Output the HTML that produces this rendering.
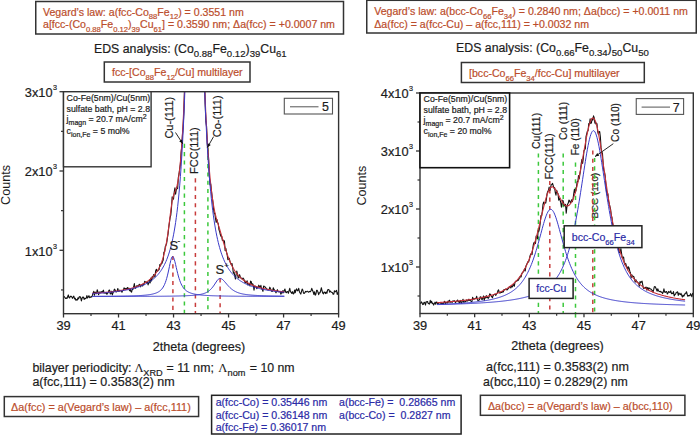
<!DOCTYPE html><html><head><meta charset="utf-8"><style>html,body{margin:0;padding:0;background:#fff;}svg{display:block;}</style></head><body><svg width="700" height="435" viewBox="0 0 700 435" font-family='"Liberation Sans", sans-serif'><rect width="700" height="435" fill="#fff"/><rect x="35.75" y="1.5" width="307.75" height="32.50" fill="none" stroke="#333333" stroke-width="1.5"/>
<text x="43" y="15.5" font-size="10.6" fill="#bb4d2b" stroke="#bb4d2b" stroke-width="0.2" text-anchor="start" ><tspan>Vegard’s law: a(fcc-Co</tspan><tspan dy="3.50" font-size="7.63">88</tspan><tspan dy="-3.50">Fe</tspan><tspan dy="3.50" font-size="7.63">12</tspan><tspan dy="-3.50">) = 0.3551 nm</tspan></text>
<text x="43" y="28.2" font-size="10.6" fill="#bb4d2b" stroke="#bb4d2b" stroke-width="0.2" text-anchor="start" ><tspan>a[fcc-(Co</tspan><tspan dy="3.50" font-size="7.63">0.88</tspan><tspan dy="-3.50">Fe</tspan><tspan dy="3.50" font-size="7.63">0.12</tspan><tspan dy="-3.50">)</tspan><tspan dy="3.50" font-size="7.63">39</tspan><tspan dy="-3.50">Cu</tspan><tspan dy="3.50" font-size="7.63">61</tspan><tspan dy="-3.50">] = 0.3590 nm; Δa(fcc) = +0.0007 nm</tspan></text>
<rect x="366.75" y="0.3" width="329.50" height="32.70" fill="none" stroke="#333333" stroke-width="1.5"/>
<text x="374.2" y="15" font-size="10.6" fill="#bb4d2b" stroke="#bb4d2b" stroke-width="0.2" text-anchor="start" ><tspan>Vegard’s law: a(bcc-Co</tspan><tspan dy="3.50" font-size="7.63">66</tspan><tspan dy="-3.50">Fe</tspan><tspan dy="3.50" font-size="7.63">34</tspan><tspan dy="-3.50">) = 0.2840 nm; Δa(bcc) = +0.0011 nm</tspan></text>
<text x="374.2" y="27.9" font-size="10.6" fill="#bb4d2b" stroke="#bb4d2b" stroke-width="0.2" text-anchor="start" ><tspan>Δa(fcc) = a(fcc-Cu) – a(fcc,111) = +0.0032 nm</tspan></text>
<text x="94" y="52.7" font-size="12.3" fill="#1c1c1c" stroke="#1c1c1c" stroke-width="0.2" text-anchor="start" ><tspan>EDS analysis: (Co</tspan><tspan dy="4.20" font-size="9.60">0.88</tspan><tspan dy="-4.20">Fe</tspan><tspan dy="4.20" font-size="9.60">0.12</tspan><tspan dy="-4.20">)</tspan><tspan dy="4.20" font-size="9.60">39</tspan><tspan dy="-4.20">Cu</tspan><tspan dy="4.20" font-size="9.60">61</tspan></text>
<text x="456.1" y="51.6" font-size="12.3" fill="#1c1c1c" stroke="#1c1c1c" stroke-width="0.2" text-anchor="start" ><tspan>EDS analysis: (Co</tspan><tspan dy="4.20" font-size="9.60">0.66</tspan><tspan dy="-4.20">Fe</tspan><tspan dy="4.20" font-size="9.60">0.34</tspan><tspan dy="-4.20">)</tspan><tspan dy="4.20" font-size="9.60">50</tspan><tspan dy="-4.20">Cu</tspan><tspan dy="4.20" font-size="9.60">50</tspan></text>
<rect x="104.3" y="62" width="145.70" height="20.00" fill="none" stroke="#333333" stroke-width="1.5"/>
<text x="112" y="76.3" font-size="10.6" fill="#bb4d2b" stroke="#bb4d2b" stroke-width="0.2" text-anchor="start" ><tspan>fcc-[Co</tspan><tspan dy="3.50" font-size="7.63">88</tspan><tspan dy="-3.50">Fe</tspan><tspan dy="3.50" font-size="7.63">12</tspan><tspan dy="-3.50">/Cu] multilayer</tspan></text>
<rect x="461.4" y="62.5" width="182.90" height="20.00" fill="none" stroke="#333333" stroke-width="1.5"/>
<text x="469" y="77.2" font-size="10.6" fill="#bb4d2b" stroke="#bb4d2b" stroke-width="0.2" text-anchor="start" ><tspan>[bcc-Co</tspan><tspan dy="3.50" font-size="7.63">66</tspan><tspan dy="-3.50">Fe</tspan><tspan dy="3.50" font-size="7.63">34</tspan><tspan dy="-3.50">/fcc-Cu] multilayer</tspan></text>
<defs><clipPath id="cl"><rect x="63.5" y="91.7" width="275.1" height="222.0"/></clipPath><clipPath id="cr"><rect x="420.0" y="93.0" width="273.29999999999995" height="220.5"/></clipPath></defs>
<g clip-path="url(#cl)">
<line x1="172.90" y1="256.00" x2="172.90" y2="313.70" stroke="#c83c3c" stroke-width="1.5" stroke-dasharray="4.1 4.2"/>
<line x1="184.40" y1="143.80" x2="184.40" y2="313.70" stroke="#3cc83c" stroke-width="1.5" stroke-dasharray="4.1 4.2"/>
<line x1="195.40" y1="178.30" x2="195.40" y2="313.70" stroke="#c83c3c" stroke-width="1.5" stroke-dasharray="4.1 4.2"/>
<line x1="207.90" y1="147.50" x2="207.90" y2="313.70" stroke="#3cc83c" stroke-width="1.5" stroke-dasharray="4.1 4.2"/>
<line x1="220.10" y1="278.30" x2="220.10" y2="313.70" stroke="#c83c3c" stroke-width="1.5" stroke-dasharray="4.1 4.2"/>
<path d="M63.50,296.87 L64.19,296.52 L64.88,297.47 L65.56,298.45 L66.25,297.99 L66.94,298.54 L67.63,296.77 L68.31,294.94 L69.00,297.55 L69.69,297.89 L70.38,296.22 L71.07,296.26 L71.75,296.88 L72.44,298.35 L73.13,297.02 L73.82,296.12 L74.50,298.96 L75.19,298.26 L75.88,300.20 L76.57,299.64 L77.25,300.07 L77.94,297.89 L78.63,298.88 L79.32,296.72 L80.01,296.67 L80.69,297.67 L81.38,300.96 L82.07,298.26 L82.76,297.09 L83.44,297.06 L84.13,299.36 L84.82,298.15 L85.51,298.69 L86.20,298.16 L86.88,295.60 L87.57,297.98 L88.26,296.96 L88.95,295.68 L89.63,297.68 L90.32,297.19 L91.01,296.77 L91.70,297.05 L92.39,295.34 L93.07,293.18 L93.76,291.37 L94.45,295.31 L95.14,292.09 L95.82,292.91 L96.51,293.72 L97.20,289.76 L97.89,291.59 L98.58,294.74 L99.26,292.91 L99.95,291.93 L100.64,292.85 L101.33,291.67 L102.01,292.51 L102.70,291.25 L103.39,290.20 L104.08,293.28 L104.76,292.34 L105.45,293.07 L106.14,292.44 L106.83,294.30 L107.52,293.42 L108.20,292.37 L108.89,290.35 L109.58,290.15 L110.27,294.01 L110.95,293.27 L111.64,291.24 L112.33,294.93 L113.02,292.78 L113.71,291.48 L114.39,289.17 L115.08,289.96 L115.77,291.70 L116.46,291.86 L117.14,291.20 L117.83,288.50 L118.52,291.28 L119.21,291.24 L119.90,290.10 L120.58,290.66 L121.27,290.97 L121.96,292.19 L122.65,290.49 L123.33,290.52 L124.02,287.85 L124.71,288.39 L125.40,289.37 L126.09,288.41 L126.77,289.54 L127.46,287.44 L128.15,288.68 L128.84,288.13 L129.52,290.72 L130.21,288.57 L130.90,291.64 L131.59,292.14 L132.27,289.14 L132.96,289.38 L133.65,286.99 L134.34,283.57 L135.03,288.25 L135.71,288.16 L136.40,286.35 L137.09,285.56 L137.78,286.44 L138.46,286.18 L139.15,284.33 L139.84,284.51 L140.53,286.84 L141.22,285.14 L141.90,284.64 L142.59,285.97 L143.28,283.73 L143.97,284.69 L144.65,281.38 L145.34,282.02 L146.03,282.13 L146.72,282.88 L147.41,282.14 L148.09,284.90 L148.78,282.86 L149.47,279.88 L150.16,283.03 L150.84,277.95 L151.53,281.03 L152.22,276.52 L152.91,277.96 L153.60,274.57 L154.28,275.08 L154.97,277.06 L155.66,270.92 L156.35,269.23 L157.03,271.29 L157.72,270.99 L158.41,269.84 L159.10,269.72 L159.78,264.56 L160.47,265.89 L161.16,263.80 L161.85,263.45 L162.54,261.46 L163.22,259.96 L163.91,252.17 L164.60,251.60 L165.29,246.46 L165.97,245.15 L166.66,243.23 L167.35,238.30 L168.04,233.89 L168.73,227.44 L169.41,222.85 L170.10,217.59 L170.79,215.08 L171.48,207.88 L172.16,196.75 L172.85,199.74 L173.54,198.76 L174.23,192.16 L174.92,187.71 L175.60,194.29 L176.29,189.77 L176.98,188.74 L177.67,188.58 L178.35,177.30 L179.04,173.97 L179.73,168.55 L180.42,164.00 L181.11,152.50 L181.79,146.08 L182.48,134.85 L183.17,126.30 L183.86,112.23 L184.54,87.09 L185.23,75.43 L185.92,53.35 L186.61,32.59 L187.29,10.48 L187.98,-16.19 L188.67,-50.23 L189.36,-76.77 L190.05,-108.86 L190.73,-142.84 L191.42,-180.52 L192.11,-206.38 L192.80,-226.80 L193.48,-236.58 L194.17,-241.00 L194.86,-255.35 L195.55,-248.07 L196.24,-225.81 L196.92,-207.64 L197.61,-183.32 L198.30,-154.59 L198.99,-123.50 L199.67,-86.55 L200.36,-64.53 L201.05,-24.40 L201.74,-6.53 L202.43,18.37 L203.11,38.82 L203.80,54.98 L204.49,76.30 L205.18,104.42 L205.86,121.44 L206.55,126.19 L207.24,143.49 L207.93,151.02 L208.62,158.36 L209.30,175.42 L209.99,184.62 L210.68,183.91 L211.37,189.94 L212.05,196.31 L212.74,200.75 L213.43,207.92 L214.12,213.46 L214.80,213.36 L215.49,218.42 L216.18,222.51 L216.87,219.25 L217.56,222.21 L218.24,223.79 L218.93,229.55 L219.62,231.46 L220.31,234.53 L220.99,236.32 L221.68,236.12 L222.37,240.32 L223.06,240.10 L223.75,241.63 L224.43,240.88 L225.12,250.37 L225.81,248.37 L226.50,252.16 L227.18,254.74 L227.87,259.70 L228.56,259.32 L229.25,258.30 L229.94,261.44 L230.62,262.98 L231.31,264.83 L232.00,263.52 L232.69,267.56 L233.37,273.30 L234.06,272.16 L234.75,275.81 L235.44,279.05 L236.13,274.25 L236.81,271.01 L237.50,274.30 L238.19,277.79 L238.88,277.86 L239.56,274.67 L240.25,276.78 L240.94,277.89 L241.63,278.69 L242.31,278.92 L243.00,278.04 L243.69,278.94 L244.38,280.43 L245.07,282.98 L245.75,281.08 L246.44,282.96 L247.13,280.88 L247.82,284.98 L248.50,283.77 L249.19,283.92 L249.88,285.94 L250.57,281.07 L251.26,281.62 L251.94,285.19 L252.63,283.77 L253.32,285.15 L254.01,290.23 L254.69,286.09 L255.38,286.23 L256.07,286.54 L256.76,288.61 L257.45,287.64 L258.13,287.21 L258.82,285.19 L259.51,286.67 L260.20,287.31 L260.88,285.35 L261.57,288.80 L262.26,289.45 L262.95,291.32 L263.64,286.06 L264.32,286.55 L265.01,286.97 L265.70,287.68 L266.39,288.82 L267.07,289.00 L267.76,289.91 L268.45,290.00 L269.14,289.37 L269.82,287.16 L270.51,288.74 L271.20,290.22 L271.89,291.36 L272.58,291.20 L273.26,287.77 L273.95,289.35 L274.64,290.51 L275.33,291.57 L276.01,292.81 L276.70,291.12 L277.39,289.68 L278.08,291.67 L278.77,291.74 L279.45,291.71 L280.14,291.60 L280.83,294.17 L281.52,292.47 L282.20,292.93 L282.89,290.59 L283.58,292.77 L284.27,290.58 L284.96,289.10 L285.64,292.02 L286.33,292.72 L287.02,291.50 L287.71,291.86 L288.39,293.25 L289.08,290.71 L289.77,288.30 L290.46,291.75 L291.15,292.30 L291.83,293.41 L292.52,291.64 L293.21,293.93 L293.90,293.53 L294.58,289.98 L295.27,292.71 L295.96,289.77 L296.65,288.88 L297.33,290.83 L298.02,290.31 L298.71,288.37 L299.40,291.74 L300.09,293.00 L300.77,294.06 L301.46,291.60 L302.15,289.02 L302.84,289.99 L303.52,293.24 L304.21,293.42 L304.90,292.65 L305.59,291.36 L306.28,291.93 L306.96,291.32 L307.65,291.22 L308.34,292.14 L309.03,291.78 L309.71,291.38 L310.40,291.69 L311.09,290.48 L311.78,288.35 L312.47,290.31 L313.15,291.83 L313.84,294.41 L314.53,291.80 L315.22,295.15 L315.90,294.27 L316.59,290.42 L317.28,290.37 L317.97,292.15 L318.66,294.65 L319.34,292.81 L320.03,292.77 L320.72,290.31 L321.41,287.76 L322.09,291.03 L322.78,293.19 L323.47,293.82 L324.16,292.07 L324.84,292.24 L325.53,293.62 L326.22,291.98 L326.91,293.35 L327.60,289.86 L328.28,289.47 L328.97,289.77 L329.66,292.15 L330.35,290.96 L331.03,291.89 L331.72,292.44 L332.41,292.61 L333.10,294.23 L333.79,294.20 L334.47,290.71 L335.16,291.80 L335.85,291.17 L336.54,290.34 L337.22,294.53 L337.91,293.32 L338.60,291.57" fill="none" stroke="#111" stroke-width="1.1" stroke-linejoin="round" />
<path d="M92.39,293.37 L93.07,293.33 L93.76,293.29 L94.45,293.24 L95.14,293.20 L95.82,293.15 L96.51,293.10 L97.20,293.05 L97.89,293.00 L98.58,292.95 L99.26,292.90 L99.95,292.85 L100.64,292.79 L101.33,292.74 L102.01,292.68 L102.70,292.62 L103.39,292.57 L104.08,292.50 L104.76,292.44 L105.45,292.38 L106.14,292.31 L106.83,292.25 L107.52,292.18 L108.20,292.11 L108.89,292.04 L109.58,291.96 L110.27,291.89 L110.95,291.81 L111.64,291.73 L112.33,291.65 L113.02,291.57 L113.71,291.48 L114.39,291.40 L115.08,291.31 L115.77,291.21 L116.46,291.12 L117.14,291.02 L117.83,290.92 L118.52,290.82 L119.21,290.71 L119.90,290.61 L120.58,290.49 L121.27,290.38 L121.96,290.26 L122.65,290.14 L123.33,290.01 L124.02,289.88 L124.71,289.75 L125.40,289.61 L126.09,289.47 L126.77,289.33 L127.46,289.18 L128.15,289.02 L128.84,288.86 L129.52,288.69 L130.21,288.52 L130.90,288.35 L131.59,288.16 L132.27,287.97 L132.96,287.78 L133.65,287.57 L134.34,287.36 L135.03,287.15 L135.71,286.92 L136.40,286.69 L137.09,286.44 L137.78,286.19 L138.46,285.93 L139.15,285.65 L139.84,285.37 L140.53,285.08 L141.22,284.77 L141.90,284.45 L142.59,284.11 L143.28,283.76 L143.97,283.40 L144.65,283.02 L145.34,282.62 L146.03,282.20 L146.72,281.77 L147.41,281.31 L148.09,280.83 L148.78,280.33 L149.47,279.79 L150.16,279.24 L150.84,278.65 L151.53,278.02 L152.22,277.37 L152.91,276.67 L153.60,275.93 L154.28,275.15 L154.97,274.32 L155.66,273.43 L156.35,272.48 L157.03,271.46 L157.72,270.36 L158.41,269.18 L159.10,267.90 L159.78,266.51 L160.47,264.99 L161.16,263.32 L161.85,261.49 L162.54,259.46 L163.22,257.21 L163.91,254.69 L164.60,251.89 L165.29,248.76 L165.97,245.26 L166.66,241.37 L167.35,237.04 L168.04,232.29 L168.73,227.15 L169.41,221.69 L170.10,216.09 L170.79,210.61 L171.48,205.56 L172.16,201.25 L172.85,197.89 L173.54,195.33 L174.23,193.36 L174.92,191.73 L175.60,190.13 L176.29,188.26 L176.98,185.90 L177.67,182.86 L178.35,179.00 L179.04,174.23 L179.73,168.46 L180.42,161.60 L181.11,153.56 L181.79,144.24 L182.48,133.53 L183.17,121.31 L183.86,107.44 L184.54,91.76 L185.23,74.12 L185.92,54.36 L186.61,32.35 L187.29,8.02 L187.98,-18.63 L188.67,-47.45 L189.36,-78.09 L190.05,-109.92 L190.73,-141.95 L191.42,-172.86 L192.11,-200.93 L192.80,-224.28 L193.48,-241.03 L194.17,-249.68 L194.86,-249.51 L195.55,-241.17 L196.24,-225.50 L196.92,-203.75 L197.61,-177.51 L198.30,-148.42 L198.99,-117.96 L199.67,-87.38 L200.36,-57.60 L201.05,-29.27 L201.74,-2.75 L202.43,21.75 L203.11,44.17 L203.80,64.55 L204.49,82.99 L205.18,99.62 L205.86,114.59 L206.55,128.03 L207.24,140.09 L207.93,150.90 L208.62,160.58 L209.30,169.25 L209.99,177.00 L210.68,183.91 L211.37,190.08 L212.05,195.57 L212.74,200.45 L213.43,204.76 L214.12,208.58 L214.80,211.96 L215.49,214.95 L216.18,217.64 L216.87,220.08 L217.56,222.36 L218.24,224.56 L218.93,226.75 L219.62,229.00 L220.31,231.34 L220.99,233.71 L221.68,236.09 L222.37,238.48 L223.06,240.86 L223.75,243.23 L224.43,245.57 L225.12,247.85 L225.81,250.07 L226.50,252.20 L227.18,254.25 L227.87,256.21 L228.56,258.06 L229.25,259.83 L229.94,261.49 L230.62,263.06 L231.31,264.54 L232.00,265.93 L232.69,267.23 L233.37,268.46 L234.06,269.62 L234.75,270.70 L235.44,271.72 L236.13,272.68 L236.81,273.58 L237.50,274.43 L238.19,275.23 L238.88,275.99 L239.56,276.70 L240.25,277.37 L240.94,278.01 L241.63,278.61 L242.31,279.18 L243.00,279.72 L243.69,280.23 L244.38,280.72 L245.07,281.19 L245.75,281.63 L246.44,282.06 L247.13,282.46 L247.82,282.85 L248.50,283.22 L249.19,283.57 L249.88,283.91 L250.57,284.24 L251.26,284.55 L251.94,284.85 L252.63,285.14 L253.32,285.42 L254.01,285.69 L254.69,285.94 L255.38,286.19 L256.07,286.43 L256.76,286.66 L257.45,286.89 L258.13,287.10 L258.82,287.31 L259.51,287.51 L260.20,287.71 L260.88,287.89 L261.57,288.08 L262.26,288.25 L262.95,288.42 L263.64,288.59 L264.32,288.75 L265.01,288.90 L265.70,289.06 L266.39,289.20 L267.07,289.34 L267.76,289.48 L268.45,289.61 L269.14,289.74 L269.82,289.87 L270.51,289.99 L271.20,290.11 L271.89,290.23 L272.58,290.34 L273.26,290.45 L273.95,290.56 L274.64,290.66 L275.33,290.76 L276.01,290.86 L276.70,290.96 L277.39,291.05 L278.08,291.14 L278.77,291.23 L279.45,291.32 L280.14,291.40 L280.83,291.49 L281.52,291.57 L282.20,291.64 L282.89,291.72 L283.58,291.80 L284.27,291.87" fill="none" stroke="#c8303a" stroke-width="1.1" stroke-linejoin="round" />
<path d="M92.39,293.59 L93.07,293.55 L93.76,293.51 L94.45,293.47 L95.14,293.43 L95.82,293.39 L96.51,293.34 L97.20,293.30 L97.89,293.25 L98.58,293.21 L99.26,293.16 L99.95,293.11 L100.64,293.06 L101.33,293.01 L102.01,292.96 L102.70,292.90 L103.39,292.85 L104.08,292.79 L104.76,292.74 L105.45,292.68 L106.14,292.62 L106.83,292.56 L107.52,292.50 L108.20,292.43 L108.89,292.37 L109.58,292.30 L110.27,292.23 L110.95,292.16 L111.64,292.09 L112.33,292.02 L113.02,291.94 L113.71,291.87 L114.39,291.79 L115.08,291.70 L115.77,291.62 L116.46,291.54 L117.14,291.45 L117.83,291.36 L118.52,291.26 L119.21,291.17 L119.90,291.07 L120.58,290.97 L121.27,290.87 L121.96,290.76 L122.65,290.65 L123.33,290.54 L124.02,290.42 L124.71,290.30 L125.40,290.18 L126.09,290.05 L126.77,289.92 L127.46,289.79 L128.15,289.65 L128.84,289.51 L129.52,289.36 L130.21,289.21 L130.90,289.05 L131.59,288.89 L132.27,288.73 L132.96,288.55 L133.65,288.38 L134.34,288.19 L135.03,288.00 L135.71,287.80 L136.40,287.60 L137.09,287.39 L137.78,287.17 L138.46,286.94 L139.15,286.71 L139.84,286.47 L140.53,286.21 L141.22,285.95 L141.90,285.68 L142.59,285.40 L143.28,285.10 L143.97,284.80 L144.65,284.48 L145.34,284.15 L146.03,283.80 L146.72,283.44 L147.41,283.07 L148.09,282.68 L148.78,282.27 L149.47,281.84 L150.16,281.39 L150.84,280.93 L151.53,280.44 L152.22,279.93 L152.91,279.39 L153.60,278.83 L154.28,278.24 L154.97,277.62 L155.66,276.97 L156.35,276.29 L157.03,275.57 L157.72,274.81 L158.41,274.01 L159.10,273.17 L159.78,272.27 L160.47,271.33 L161.16,270.33 L161.85,269.27 L162.54,268.15 L163.22,266.96 L163.91,265.69 L164.60,264.34 L165.29,262.90 L165.97,261.37 L166.66,259.73 L167.35,257.98 L168.04,256.10 L168.73,254.08 L169.41,251.92 L170.10,249.59 L170.79,247.08 L171.48,244.37 L172.16,241.44 L172.85,238.27 L173.54,234.82 L174.23,231.08 L174.92,227.00 L175.60,222.55 L176.29,217.69 L176.98,212.35 L177.67,206.50 L178.35,200.06 L179.04,192.96 L179.73,185.11 L180.42,176.43 L181.11,166.80 L181.79,156.10 L182.48,144.21 L183.17,130.96 L183.86,116.20 L184.54,99.76 L185.23,81.46 L185.92,61.14 L186.61,38.64 L187.29,13.89 L187.98,-13.13 L188.67,-42.27 L189.36,-73.18 L190.05,-105.25 L190.73,-137.49 L191.42,-168.58 L192.11,-196.81 L192.80,-220.29 L193.48,-237.16 L194.17,-245.90 L194.86,-245.81 L195.55,-237.54 L196.24,-221.91 L196.92,-200.19 L197.61,-173.96 L198.30,-144.87 L198.99,-114.39 L199.67,-83.78 L200.36,-53.95 L201.05,-25.55 L201.74,1.06 L202.43,25.66 L203.11,48.22 L203.80,68.76 L204.49,87.39 L205.18,104.24 L205.86,119.45 L206.55,133.18 L207.24,145.58 L207.93,156.77 L208.62,166.88 L209.30,176.04 L209.99,184.34 L210.68,191.88 L211.37,198.73 L212.05,204.98 L212.74,210.68 L213.43,215.90 L214.12,220.67 L214.80,225.06 L215.49,229.09 L216.18,232.81 L216.87,236.24 L217.56,239.41 L218.24,242.34 L218.93,245.07 L219.62,247.59 L220.31,249.95 L220.99,252.14 L221.68,254.18 L222.37,256.09 L223.06,257.88 L223.75,259.55 L224.43,261.12 L225.12,262.59 L225.81,263.98 L226.50,265.28 L227.18,266.51 L227.87,267.67 L228.56,268.76 L229.25,269.80 L229.94,270.78 L230.62,271.70 L231.31,272.58 L232.00,273.41 L232.69,274.20 L233.37,274.96 L234.06,275.67 L234.75,276.35 L235.44,277.00 L236.13,277.61 L236.81,278.20 L237.50,278.76 L238.19,279.30 L238.88,279.81 L239.56,280.30 L240.25,280.77 L240.94,281.22 L241.63,281.65 L242.31,282.07 L243.00,282.46 L243.69,282.84 L244.38,283.21 L245.07,283.56 L245.75,283.90 L246.44,284.22 L247.13,284.53 L247.82,284.83 L248.50,285.12 L249.19,285.40 L249.88,285.67 L250.57,285.93 L251.26,286.18 L251.94,286.42 L252.63,286.65 L253.32,286.88 L254.01,287.10 L254.69,287.31 L255.38,287.51 L256.07,287.71 L256.76,287.90 L257.45,288.08 L258.13,288.26 L258.82,288.43 L259.51,288.60 L260.20,288.76 L260.88,288.92 L261.57,289.07 L262.26,289.22 L262.95,289.36 L263.64,289.50 L264.32,289.64 L265.01,289.77 L265.70,289.90 L266.39,290.02 L267.07,290.14 L267.76,290.26 L268.45,290.38 L269.14,290.49 L269.82,290.60 L270.51,290.70 L271.20,290.80 L271.89,290.90 L272.58,291.00 L273.26,291.10 L273.95,291.19 L274.64,291.28 L275.33,291.37 L276.01,291.45 L276.70,291.53 L277.39,291.62 L278.08,291.70 L278.77,291.77 L279.45,291.85 L280.14,291.92 L280.83,292.00 L281.52,292.07 L282.20,292.13 L282.89,292.20 L283.58,292.27 L284.27,292.33" fill="none" stroke="#3a3ac8" stroke-width="1.0" stroke-linejoin="round" />
<path d="M92.39,296.35 L93.07,296.34 L93.76,296.34 L94.45,296.34 L95.14,296.33 L95.82,296.33 L96.51,296.33 L97.20,296.32 L97.89,296.32 L98.58,296.32 L99.26,296.31 L99.95,296.31 L100.64,296.31 L101.33,296.30 L102.01,296.30 L102.70,296.29 L103.39,296.29 L104.08,296.29 L104.76,296.28 L105.45,296.28 L106.14,296.27 L106.83,296.27 L107.52,296.26 L108.20,296.26 L108.89,296.25 L109.58,296.25 L110.27,296.24 L110.95,296.23 L111.64,296.23 L112.33,296.22 L113.02,296.21 L113.71,296.21 L114.39,296.20 L115.08,296.19 L115.77,296.19 L116.46,296.18 L117.14,296.17 L117.83,296.16 L118.52,296.15 L119.21,296.14 L119.90,296.13 L120.58,296.12 L121.27,296.11 L121.96,296.10 L122.65,296.09 L123.33,296.08 L124.02,296.07 L124.71,296.06 L125.40,296.04 L126.09,296.03 L126.77,296.01 L127.46,296.00 L128.15,295.98 L128.84,295.97 L129.52,295.95 L130.21,295.93 L130.90,295.91 L131.59,295.89 L132.27,295.87 L132.96,295.85 L133.65,295.83 L134.34,295.80 L135.03,295.78 L135.71,295.75 L136.40,295.72 L137.09,295.69 L137.78,295.66 L138.46,295.63 L139.15,295.59 L139.84,295.55 L140.53,295.51 L141.22,295.47 L141.90,295.43 L142.59,295.38 L143.28,295.33 L143.97,295.27 L144.65,295.21 L145.34,295.15 L146.03,295.08 L146.72,295.00 L147.41,294.93 L148.09,294.84 L148.78,294.75 L149.47,294.65 L150.16,294.54 L150.84,294.42 L151.53,294.29 L152.22,294.14 L152.91,293.99 L153.60,293.81 L154.28,293.62 L154.97,293.41 L155.66,293.18 L156.35,292.92 L157.03,292.62 L157.72,292.29 L158.41,291.92 L159.10,291.49 L159.78,290.99 L160.47,290.42 L161.16,289.76 L161.85,288.99 L162.54,288.09 L163.22,287.04 L163.91,285.80 L164.60,284.35 L165.29,282.67 L165.97,280.71 L166.66,278.46 L167.35,275.90 L168.04,273.03 L168.73,269.91 L169.41,266.63 L170.10,263.37 L170.79,260.41 L171.48,258.07 L172.16,256.71 L172.85,256.53 L173.54,257.42 L174.23,259.22 L174.92,261.68 L175.60,264.54 L176.29,267.55 L176.98,270.53 L177.67,273.36 L178.35,275.97 L179.04,278.31 L179.73,280.40 L180.42,282.24 L181.11,283.85 L181.79,285.25 L182.48,286.46 L183.17,287.51 L183.86,288.42 L184.54,289.20 L185.23,289.89 L185.92,290.48 L186.61,291.00 L187.29,291.45 L187.98,291.85 L188.67,292.20 L189.36,292.52 L190.05,292.80 L190.73,293.05 L191.42,293.28 L192.11,293.49 L192.80,293.67 L193.48,293.84 L194.17,294.00 L194.86,294.14 L195.55,294.27 L196.24,294.39 L196.92,294.51 L197.61,294.61 L198.30,294.70 L198.99,294.79 L199.67,294.87 L200.36,294.95 L201.05,295.02 L201.74,295.09 L202.43,295.15 L203.11,295.21 L203.80,295.26 L204.49,295.32 L205.18,295.36 L205.86,295.41 L206.55,295.45 L207.24,295.49 L207.93,295.53 L208.62,295.57 L209.30,295.60 L209.99,295.63 L210.68,295.66 L211.37,295.69 L212.05,295.72 L212.74,295.75 L213.43,295.77 L214.12,295.79 L214.80,295.82 L215.49,295.84 L216.18,295.86 L216.87,295.88 L217.56,295.90 L218.24,295.92 L218.93,295.93 L219.62,295.95 L220.31,295.97 L220.99,295.98 L221.68,295.99 L222.37,296.01 L223.06,296.02 L223.75,296.03 L224.43,296.05 L225.12,296.06 L225.81,296.07 L226.50,296.08 L227.18,296.09 L227.87,296.10 L228.56,296.11 L229.25,296.12 L229.94,296.13 L230.62,296.14 L231.31,296.15 L232.00,296.16 L232.69,296.16 L233.37,296.17 L234.06,296.18 L234.75,296.19 L235.44,296.19 L236.13,296.20 L236.81,296.21 L237.50,296.21 L238.19,296.22 L238.88,296.22 L239.56,296.23 L240.25,296.24 L240.94,296.24 L241.63,296.25 L242.31,296.25 L243.00,296.26 L243.69,296.26 L244.38,296.27 L245.07,296.27 L245.75,296.28 L246.44,296.28 L247.13,296.28 L247.82,296.29 L248.50,296.29 L249.19,296.30 L249.88,296.30 L250.57,296.30 L251.26,296.31 L251.94,296.31 L252.63,296.31 L253.32,296.32 L254.01,296.32 L254.69,296.32 L255.38,296.33 L256.07,296.33 L256.76,296.33 L257.45,296.33 L258.13,296.34 L258.82,296.34 L259.51,296.34 L260.20,296.35 L260.88,296.35 L261.57,296.35 L262.26,296.35 L262.95,296.36 L263.64,296.36 L264.32,296.36 L265.01,296.36 L265.70,296.36 L266.39,296.37 L267.07,296.37 L267.76,296.37 L268.45,296.37 L269.14,296.37 L269.82,296.38 L270.51,296.38 L271.20,296.38 L271.89,296.38 L272.58,296.38 L273.26,296.38 L273.95,296.39 L274.64,296.39 L275.33,296.39 L276.01,296.39 L276.70,296.39 L277.39,296.39 L278.08,296.40 L278.77,296.40 L279.45,296.40 L280.14,296.40 L280.83,296.40 L281.52,296.40 L282.20,296.40 L282.89,296.41 L283.58,296.41 L284.27,296.41" fill="none" stroke="#3a3ac8" stroke-width="1.0" stroke-linejoin="round" />
<path d="M92.39,296.45 L93.07,296.45 L93.76,296.45 L94.45,296.45 L95.14,296.45 L95.82,296.45 L96.51,296.45 L97.20,296.45 L97.89,296.45 L98.58,296.45 L99.26,296.45 L99.95,296.44 L100.64,296.44 L101.33,296.44 L102.01,296.44 L102.70,296.44 L103.39,296.44 L104.08,296.44 L104.76,296.44 L105.45,296.44 L106.14,296.44 L106.83,296.44 L107.52,296.44 L108.20,296.43 L108.89,296.43 L109.58,296.43 L110.27,296.43 L110.95,296.43 L111.64,296.43 L112.33,296.43 L113.02,296.43 L113.71,296.43 L114.39,296.43 L115.08,296.43 L115.77,296.42 L116.46,296.42 L117.14,296.42 L117.83,296.42 L118.52,296.42 L119.21,296.42 L119.90,296.42 L120.58,296.42 L121.27,296.41 L121.96,296.41 L122.65,296.41 L123.33,296.41 L124.02,296.41 L124.71,296.41 L125.40,296.41 L126.09,296.40 L126.77,296.40 L127.46,296.40 L128.15,296.40 L128.84,296.40 L129.52,296.40 L130.21,296.39 L130.90,296.39 L131.59,296.39 L132.27,296.39 L132.96,296.39 L133.65,296.39 L134.34,296.38 L135.03,296.38 L135.71,296.38 L136.40,296.38 L137.09,296.38 L137.78,296.37 L138.46,296.37 L139.15,296.37 L139.84,296.37 L140.53,296.36 L141.22,296.36 L141.90,296.36 L142.59,296.36 L143.28,296.35 L143.97,296.35 L144.65,296.35 L145.34,296.34 L146.03,296.34 L146.72,296.34 L147.41,296.34 L148.09,296.33 L148.78,296.33 L149.47,296.33 L150.16,296.32 L150.84,296.32 L151.53,296.31 L152.22,296.31 L152.91,296.31 L153.60,296.30 L154.28,296.30 L154.97,296.29 L155.66,296.29 L156.35,296.28 L157.03,296.28 L157.72,296.27 L158.41,296.27 L159.10,296.26 L159.78,296.26 L160.47,296.25 L161.16,296.25 L161.85,296.24 L162.54,296.23 L163.22,296.23 L163.91,296.22 L164.60,296.21 L165.29,296.21 L165.97,296.20 L166.66,296.19 L167.35,296.18 L168.04,296.17 L168.73,296.17 L169.41,296.16 L170.10,296.15 L170.79,296.14 L171.48,296.13 L172.16,296.12 L172.85,296.11 L173.54,296.09 L174.23,296.08 L174.92,296.07 L175.60,296.06 L176.29,296.04 L176.98,296.03 L177.67,296.01 L178.35,296.00 L179.04,295.98 L179.73,295.96 L180.42,295.94 L181.11,295.92 L181.79,295.90 L182.48,295.88 L183.17,295.86 L183.86,295.83 L184.54,295.81 L185.23,295.78 L185.92,295.75 L186.61,295.72 L187.29,295.69 L187.98,295.66 L188.67,295.62 L189.36,295.59 L190.05,295.55 L190.73,295.50 L191.42,295.46 L192.11,295.41 L192.80,295.36 L193.48,295.30 L194.17,295.24 L194.86,295.17 L195.55,295.10 L196.24,295.03 L196.92,294.95 L197.61,294.86 L198.30,294.76 L198.99,294.66 L199.67,294.54 L200.36,294.41 L201.05,294.27 L201.74,294.12 L202.43,293.95 L203.11,293.76 L203.80,293.54 L204.49,293.31 L205.18,293.04 L205.86,292.74 L206.55,292.41 L207.24,292.03 L207.93,291.61 L208.62,291.15 L209.30,290.62 L209.99,290.04 L210.68,289.39 L211.37,288.67 L212.05,287.89 L212.74,287.03 L213.43,286.11 L214.12,285.13 L214.80,284.09 L215.49,283.04 L216.18,281.98 L216.87,280.98 L217.56,280.07 L218.24,279.31 L218.93,278.77 L219.62,278.47 L220.31,278.44 L220.99,278.61 L221.68,278.93 L222.37,279.39 L223.06,279.98 L223.75,280.66 L224.43,281.42 L225.12,282.21 L225.81,283.03 L226.50,283.86 L227.18,284.66 L227.87,285.45 L228.56,286.20 L229.25,286.92 L229.94,287.60 L230.62,288.23 L231.31,288.82 L232.00,289.37 L232.69,289.88 L233.37,290.35 L234.06,290.79 L234.75,291.18 L235.44,291.55 L236.13,291.88 L236.81,292.19 L237.50,292.47 L238.19,292.73 L238.88,292.96 L239.56,293.18 L240.25,293.38 L240.94,293.56 L241.63,293.72 L242.31,293.88 L243.00,294.02 L243.69,294.15 L244.38,294.26 L245.07,294.38 L245.75,294.48 L246.44,294.57 L247.13,294.66 L247.82,294.74 L248.50,294.82 L249.19,294.89 L249.88,294.96 L250.57,295.02 L251.26,295.08 L251.94,295.14 L252.63,295.19 L253.32,295.24 L254.01,295.29 L254.69,295.33 L255.38,295.37 L256.07,295.41 L256.76,295.45 L257.45,295.49 L258.13,295.52 L258.82,295.55 L259.51,295.59 L260.20,295.62 L260.88,295.64 L261.57,295.67 L262.26,295.70 L262.95,295.72 L263.64,295.74 L264.32,295.77 L265.01,295.79 L265.70,295.81 L266.39,295.83 L267.07,295.85 L267.76,295.87 L268.45,295.88 L269.14,295.90 L269.82,295.92 L270.51,295.93 L271.20,295.95 L271.89,295.96 L272.58,295.97 L273.26,295.99 L273.95,296.00 L274.64,296.01 L275.33,296.02 L276.01,296.04 L276.70,296.05 L277.39,296.06 L278.08,296.07 L278.77,296.08 L279.45,296.09 L280.14,296.10 L280.83,296.11 L281.52,296.11 L282.20,296.12 L282.89,296.13 L283.58,296.14 L284.27,296.15" fill="none" stroke="#3a3ac8" stroke-width="1.0" stroke-linejoin="round" />
</g>
<rect x="63.5" y="91.7" width="275.10" height="222.00" fill="none" stroke="#333333" stroke-width="1.4"/>
<line x1="63.50" y1="313.70" x2="63.50" y2="317.50" stroke="#333333" stroke-width="1.3" />
<text x="63.5" y="330" font-size="12.8" fill="#1c1c1c" stroke="#1c1c1c" stroke-width="0.2" text-anchor="middle" ><tspan>39</tspan></text>
<line x1="91.01" y1="313.70" x2="91.01" y2="315.90" stroke="#333333" stroke-width="1.2" />
<line x1="118.52" y1="313.70" x2="118.52" y2="317.50" stroke="#333333" stroke-width="1.3" />
<text x="118.52000000000001" y="330" font-size="12.8" fill="#1c1c1c" stroke="#1c1c1c" stroke-width="0.2" text-anchor="middle" ><tspan>41</tspan></text>
<line x1="146.03" y1="313.70" x2="146.03" y2="315.90" stroke="#333333" stroke-width="1.2" />
<line x1="173.54" y1="313.70" x2="173.54" y2="317.50" stroke="#333333" stroke-width="1.3" />
<text x="173.54000000000002" y="330" font-size="12.8" fill="#1c1c1c" stroke="#1c1c1c" stroke-width="0.2" text-anchor="middle" ><tspan>43</tspan></text>
<line x1="201.05" y1="313.70" x2="201.05" y2="315.90" stroke="#333333" stroke-width="1.2" />
<line x1="228.56" y1="313.70" x2="228.56" y2="317.50" stroke="#333333" stroke-width="1.3" />
<text x="228.56" y="330" font-size="12.8" fill="#1c1c1c" stroke="#1c1c1c" stroke-width="0.2" text-anchor="middle" ><tspan>45</tspan></text>
<line x1="256.07" y1="313.70" x2="256.07" y2="315.90" stroke="#333333" stroke-width="1.2" />
<line x1="283.58" y1="313.70" x2="283.58" y2="317.50" stroke="#333333" stroke-width="1.3" />
<text x="283.58000000000004" y="330" font-size="12.8" fill="#1c1c1c" stroke="#1c1c1c" stroke-width="0.2" text-anchor="middle" ><tspan>47</tspan></text>
<line x1="311.09" y1="313.70" x2="311.09" y2="315.90" stroke="#333333" stroke-width="1.2" />
<line x1="338.60" y1="313.70" x2="338.60" y2="317.50" stroke="#333333" stroke-width="1.3" />
<text x="338.6" y="330" font-size="12.8" fill="#1c1c1c" stroke="#1c1c1c" stroke-width="0.2" text-anchor="middle" ><tspan>49</tspan></text>
<line x1="59.50" y1="250.30" x2="63.50" y2="250.30" stroke="#333333" stroke-width="1.3" />
<line x1="59.50" y1="171.00" x2="63.50" y2="171.00" stroke="#333333" stroke-width="1.3" />
<line x1="59.50" y1="91.70" x2="63.50" y2="91.70" stroke="#333333" stroke-width="1.3" />
<line x1="61.00" y1="289.95" x2="63.50" y2="289.95" stroke="#333333" stroke-width="1.2" />
<line x1="61.00" y1="210.65" x2="63.50" y2="210.65" stroke="#333333" stroke-width="1.2" />
<line x1="61.00" y1="131.35" x2="63.50" y2="131.35" stroke="#333333" stroke-width="1.2" />
<text x="52.6" y="96.90000000000005" font-size="12.8" fill="#1c1c1c" stroke="#1c1c1c" stroke-width="0.2" text-anchor="end" ><tspan>3x10</tspan></text>
<text x="52.9" y="89.90000000000005" font-size="7.2" fill="#1c1c1c" stroke="#1c1c1c" stroke-width="0.2" text-anchor="start" ><tspan>3</tspan></text>
<text x="52.6" y="176.20000000000002" font-size="12.8" fill="#1c1c1c" stroke="#1c1c1c" stroke-width="0.2" text-anchor="end" ><tspan>2x10</tspan></text>
<text x="52.9" y="169.20000000000002" font-size="7.2" fill="#1c1c1c" stroke="#1c1c1c" stroke-width="0.2" text-anchor="start" ><tspan>3</tspan></text>
<text x="52.6" y="255.5" font-size="12.8" fill="#1c1c1c" stroke="#1c1c1c" stroke-width="0.2" text-anchor="end" ><tspan>1x10</tspan></text>
<text x="52.9" y="248.5" font-size="7.2" fill="#1c1c1c" stroke="#1c1c1c" stroke-width="0.2" text-anchor="start" ><tspan>3</tspan></text>
<g clip-path="url(#cr)">
<text x="0" y="0" font-size="9.9" fill="#222" stroke="#222" stroke-width="0.2" transform="translate(597.6,218.6) rotate(-90)">BCC (110)</text>
<line x1="538.40" y1="153.40" x2="538.40" y2="313.50" stroke="#3cc83c" stroke-width="1.5" stroke-dasharray="4.1 4.2"/>
<line x1="549.80" y1="181.00" x2="549.80" y2="313.50" stroke="#c83c3c" stroke-width="1.5" stroke-dasharray="4.1 4.2"/>
<line x1="563.20" y1="153.40" x2="563.20" y2="313.50" stroke="#3cc83c" stroke-width="1.5" stroke-dasharray="4.1 4.2"/>
<line x1="575.50" y1="162.60" x2="575.50" y2="320.50" stroke="#3cc83c" stroke-width="1.5" stroke-dasharray="4.1 4.2"/>
<line x1="592.80" y1="150.40" x2="592.80" y2="313.50" stroke="#c83c3c" stroke-width="1.5" stroke-dasharray="4.1 4.2"/>
<line x1="594.60" y1="158.00" x2="594.60" y2="313.50" stroke="#3cc83c" stroke-width="1.5" stroke-dasharray="4.1 4.2"/>
<path d="M420.00,302.67 L420.68,303.31 L421.37,301.89 L422.05,302.86 L422.73,304.60 L423.42,304.23 L424.10,302.20 L424.78,302.69 L425.47,305.04 L426.15,301.69 L426.83,301.98 L427.52,301.47 L428.20,303.37 L428.88,303.64 L429.57,304.07 L430.25,300.29 L430.93,302.68 L431.62,301.33 L432.30,303.58 L432.98,303.22 L433.66,305.07 L434.35,303.63 L435.03,302.16 L435.71,304.24 L436.40,301.95 L437.08,302.19 L437.76,303.82 L438.45,303.33 L439.13,303.10 L439.81,302.64 L440.50,303.16 L441.18,303.46 L441.86,302.94 L442.55,303.72 L443.23,303.91 L443.91,302.28 L444.60,301.30 L445.28,303.77 L445.96,302.34 L446.65,302.90 L447.33,303.07 L448.01,301.07 L448.70,302.09 L449.38,300.15 L450.06,302.37 L450.75,301.34 L451.43,301.93 L452.11,302.41 L452.80,300.91 L453.48,301.44 L454.16,300.67 L454.85,301.44 L455.53,302.60 L456.21,301.47 L456.90,300.93 L457.58,300.01 L458.26,301.96 L458.95,301.37 L459.63,302.88 L460.31,300.41 L460.99,302.22 L461.68,303.05 L462.36,300.74 L463.04,299.36 L463.73,302.30 L464.41,302.03 L465.09,301.52 L465.78,301.63 L466.46,299.91 L467.14,301.06 L467.83,300.85 L468.51,299.31 L469.19,300.52 L469.88,299.36 L470.56,300.89 L471.24,301.42 L471.93,301.56 L472.61,297.21 L473.29,299.20 L473.98,298.77 L474.66,298.89 L475.34,298.59 L476.03,298.29 L476.71,296.27 L477.39,299.74 L478.08,300.68 L478.76,299.99 L479.44,299.85 L480.13,297.06 L480.81,296.77 L481.49,299.02 L482.18,299.57 L482.86,297.85 L483.54,295.93 L484.23,300.50 L484.91,296.88 L485.59,297.94 L486.28,295.58 L486.96,297.75 L487.64,297.08 L488.32,298.33 L489.01,297.24 L489.69,293.86 L490.37,294.24 L491.06,295.88 L491.74,296.70 L492.42,297.73 L493.11,295.57 L493.79,294.60 L494.47,294.38 L495.16,294.35 L495.84,295.36 L496.52,293.81 L497.21,293.09 L497.89,290.84 L498.57,289.85 L499.26,292.43 L499.94,293.28 L500.62,292.18 L501.31,292.55 L501.99,292.41 L502.67,291.28 L503.36,291.96 L504.04,289.49 L504.72,289.80 L505.41,289.10 L506.09,289.39 L506.77,289.92 L507.46,289.81 L508.14,288.39 L508.82,288.13 L509.51,286.55 L510.19,286.54 L510.87,287.92 L511.56,285.69 L512.24,286.95 L512.92,285.44 L513.61,284.54 L514.29,286.30 L514.97,282.48 L515.65,281.31 L516.34,281.15 L517.02,280.91 L517.70,280.24 L518.39,280.30 L519.07,278.44 L519.75,277.75 L520.44,276.05 L521.12,276.92 L521.80,273.65 L522.49,272.49 L523.17,271.99 L523.85,271.21 L524.54,268.74 L525.22,270.91 L525.90,266.12 L526.59,264.62 L527.27,263.10 L527.95,261.61 L528.64,261.96 L529.32,259.53 L530.00,255.89 L530.69,254.30 L531.37,253.37 L532.05,254.58 L532.74,248.38 L533.42,244.29 L534.10,242.40 L534.79,242.35 L535.47,243.56 L536.15,236.11 L536.84,236.06 L537.52,238.61 L538.20,230.17 L538.89,231.07 L539.57,228.18 L540.25,223.01 L540.94,215.52 L541.62,216.04 L542.30,211.51 L542.98,204.49 L543.67,202.11 L544.35,204.10 L545.03,202.81 L545.72,203.05 L546.40,199.13 L547.08,193.63 L547.77,191.50 L548.45,190.33 L549.13,187.09 L549.82,190.52 L550.50,187.93 L551.18,184.83 L551.87,184.50 L552.55,183.35 L553.23,185.65 L553.92,188.21 L554.60,187.69 L555.28,192.54 L555.97,195.11 L556.65,190.28 L557.33,192.45 L558.02,193.67 L558.70,200.15 L559.38,198.50 L560.07,200.11 L560.75,202.71 L561.43,207.22 L562.12,203.04 L562.80,200.17 L563.48,202.43 L564.17,205.88 L564.85,204.98 L565.53,204.34 L566.22,213.11 L566.90,207.02 L567.58,204.22 L568.27,203.05 L568.95,200.01 L569.63,200.90 L570.31,202.58 L571.00,201.76 L571.68,199.71 L572.36,201.71 L573.05,198.90 L573.73,193.93 L574.41,189.38 L575.10,192.88 L575.78,190.91 L576.46,187.22 L577.15,181.56 L577.83,181.77 L578.51,175.64 L579.20,178.97 L579.88,174.19 L580.56,170.08 L581.25,163.28 L581.93,159.37 L582.61,163.48 L583.30,158.31 L583.98,150.55 L584.66,149.89 L585.35,148.41 L586.03,136.65 L586.71,133.86 L587.40,131.14 L588.08,130.73 L588.76,123.56 L589.45,124.25 L590.13,118.78 L590.81,123.58 L591.50,122.50 L592.18,118.24 L592.86,120.07 L593.55,115.87 L594.23,117.96 L594.91,123.14 L595.60,121.97 L596.28,124.63 L596.96,123.62 L597.64,131.43 L598.33,134.06 L599.01,131.54 L599.69,131.46 L600.38,136.95 L601.06,147.89 L601.74,152.16 L602.43,153.16 L603.11,163.01 L603.79,170.62 L604.48,172.10 L605.16,175.83 L605.84,184.50 L606.53,191.82 L607.21,195.12 L607.89,193.85 L608.58,201.17 L609.26,203.94 L609.94,206.64 L610.63,209.65 L611.31,215.52 L611.99,217.73 L612.68,224.32 L613.36,226.94 L614.04,230.93 L614.73,229.31 L615.41,234.63 L616.09,239.34 L616.78,241.29 L617.46,243.18 L618.14,244.18 L618.83,251.20 L619.51,252.62 L620.19,252.38 L620.88,248.52 L621.56,253.33 L622.24,257.60 L622.93,257.63 L623.61,257.01 L624.29,262.88 L624.97,264.84 L625.66,263.37 L626.34,265.66 L627.02,267.04 L627.71,269.83 L628.39,266.78 L629.07,267.98 L629.76,271.13 L630.44,272.76 L631.12,277.89 L631.81,274.81 L632.49,276.38 L633.17,276.21 L633.86,276.62 L634.54,279.33 L635.22,282.07 L635.91,279.75 L636.59,281.71 L637.27,281.90 L637.96,282.77 L638.64,283.33 L639.32,286.27 L640.01,281.62 L640.69,282.77 L641.37,281.86 L642.06,281.14 L642.74,284.86 L643.42,288.34 L644.11,287.70 L644.79,288.22 L645.47,287.41 L646.16,287.11 L646.84,290.07 L647.52,287.52 L648.21,289.85 L648.89,287.80 L649.57,288.39 L650.26,288.99 L650.94,289.00 L651.62,289.91 L652.30,290.53 L652.99,292.06 L653.67,289.65 L654.35,286.74 L655.04,286.52 L655.72,287.78 L656.40,289.25 L657.09,291.19 L657.77,288.78 L658.45,290.75 L659.14,291.24 L659.82,291.65 L660.50,291.37 L661.19,292.14 L661.87,292.04 L662.55,293.42 L663.24,292.22 L663.92,288.81 L664.60,291.86 L665.29,292.50 L665.97,291.50 L666.65,291.54 L667.34,294.04 L668.02,292.96 L668.70,291.40 L669.39,292.24 L670.07,292.39 L670.75,290.86 L671.44,293.71 L672.12,293.21 L672.80,293.64 L673.49,291.58 L674.17,295.92 L674.85,294.75 L675.54,294.17 L676.22,292.53 L676.90,292.32 L677.59,291.79 L678.27,295.46 L678.95,292.94 L679.63,294.11 L680.32,294.64 L681.00,293.31 L681.68,295.38 L682.37,296.98 L683.05,295.02 L683.73,296.18 L684.42,295.04 L685.10,293.50 L685.78,293.19 L686.47,291.74 L687.15,294.24 L687.83,296.28 L688.52,295.45 L689.20,295.60 L689.88,295.75 L690.57,293.69 L691.25,295.14 L691.93,296.72 L692.62,293.36 L693.30,294.00" fill="none" stroke="#111" stroke-width="1.1" stroke-linejoin="round" />
<path d="M437.08,302.59 L437.76,302.55 L438.45,302.51 L439.13,302.47 L439.81,302.43 L440.50,302.39 L441.18,302.34 L441.86,302.30 L442.55,302.26 L443.23,302.21 L443.91,302.16 L444.60,302.12 L445.28,302.07 L445.96,302.02 L446.65,301.97 L447.33,301.92 L448.01,301.87 L448.70,301.82 L449.38,301.77 L450.06,301.71 L450.75,301.66 L451.43,301.60 L452.11,301.55 L452.80,301.49 L453.48,301.43 L454.16,301.37 L454.85,301.31 L455.53,301.25 L456.21,301.19 L456.90,301.12 L457.58,301.06 L458.26,300.99 L458.95,300.92 L459.63,300.85 L460.31,300.78 L460.99,300.71 L461.68,300.64 L462.36,300.56 L463.04,300.48 L463.73,300.41 L464.41,300.33 L465.09,300.25 L465.78,300.16 L466.46,300.08 L467.14,299.99 L467.83,299.91 L468.51,299.82 L469.19,299.72 L469.88,299.63 L470.56,299.53 L471.24,299.44 L471.93,299.34 L472.61,299.23 L473.29,299.13 L473.98,299.02 L474.66,298.91 L475.34,298.80 L476.03,298.69 L476.71,298.57 L477.39,298.45 L478.08,298.33 L478.76,298.20 L479.44,298.08 L480.13,297.94 L480.81,297.81 L481.49,297.67 L482.18,297.53 L482.86,297.39 L483.54,297.24 L484.23,297.09 L484.91,296.93 L485.59,296.77 L486.28,296.60 L486.96,296.44 L487.64,296.26 L488.32,296.08 L489.01,295.90 L489.69,295.71 L490.37,295.52 L491.06,295.32 L491.74,295.12 L492.42,294.91 L493.11,294.69 L493.79,294.47 L494.47,294.24 L495.16,294.01 L495.84,293.76 L496.52,293.51 L497.21,293.26 L497.89,292.99 L498.57,292.72 L499.26,292.43 L499.94,292.14 L500.62,291.84 L501.31,291.53 L501.99,291.20 L502.67,290.87 L503.36,290.53 L504.04,290.17 L504.72,289.80 L505.41,289.42 L506.09,289.02 L506.77,288.61 L507.46,288.18 L508.14,287.74 L508.82,287.28 L509.51,286.81 L510.19,286.31 L510.87,285.80 L511.56,285.26 L512.24,284.70 L512.92,284.12 L513.61,283.52 L514.29,282.89 L514.97,282.23 L515.65,281.55 L516.34,280.83 L517.02,280.09 L517.70,279.31 L518.39,278.49 L519.07,277.64 L519.75,276.75 L520.44,275.82 L521.12,274.85 L521.80,273.84 L522.49,272.77 L523.17,271.66 L523.85,270.50 L524.54,269.28 L525.22,268.00 L525.90,266.67 L526.59,265.27 L527.27,263.80 L527.95,262.27 L528.64,260.67 L529.32,259.00 L530.00,257.25 L530.69,255.42 L531.37,253.52 L532.05,251.53 L532.74,249.45 L533.42,247.30 L534.10,245.05 L534.79,242.72 L535.47,240.31 L536.15,237.81 L536.84,235.24 L537.52,232.59 L538.20,229.87 L538.89,227.09 L539.57,224.25 L540.25,221.38 L540.94,218.48 L541.62,215.58 L542.30,212.68 L542.98,209.82 L543.67,207.01 L544.35,204.28 L545.03,201.67 L545.72,199.18 L546.40,196.87 L547.08,194.74 L547.77,192.83 L548.45,191.16 L549.13,189.75 L549.82,188.61 L550.50,187.75 L551.18,187.17 L551.87,186.88 L552.55,186.86 L553.23,187.10 L553.92,187.58 L554.60,188.27 L555.28,189.15 L555.97,190.19 L556.65,191.35 L557.33,192.61 L558.02,193.93 L558.70,195.29 L559.38,196.65 L560.07,197.98 L560.75,199.28 L561.43,200.50 L562.12,201.64 L562.80,202.67 L563.48,203.58 L564.17,204.36 L564.85,204.99 L565.53,205.47 L566.22,205.78 L566.90,205.93 L567.58,205.90 L568.27,205.69 L568.95,205.29 L569.63,204.71 L570.31,203.94 L571.00,202.97 L571.68,201.82 L572.36,200.46 L573.05,198.91 L573.73,197.17 L574.41,195.23 L575.10,193.11 L575.78,190.79 L576.46,188.28 L577.15,185.59 L577.83,182.73 L578.51,179.70 L579.20,176.50 L579.88,173.17 L580.56,169.69 L581.25,166.10 L581.93,162.41 L582.61,158.65 L583.30,154.84 L583.98,151.01 L584.66,147.19 L585.35,143.43 L586.03,139.75 L586.71,136.22 L587.40,132.86 L588.08,129.73 L588.76,126.87 L589.45,124.34 L590.13,122.18 L590.81,120.42 L591.50,119.11 L592.18,118.28 L592.86,117.94 L593.55,118.11 L594.23,118.79 L594.91,119.98 L595.60,121.66 L596.28,123.82 L596.96,126.42 L597.64,129.42 L598.33,132.79 L599.01,136.48 L599.69,140.44 L600.38,144.64 L601.06,149.02 L601.74,153.54 L602.43,158.16 L603.11,162.84 L603.79,167.55 L604.48,172.26 L605.16,176.94 L605.84,181.57 L606.53,186.13 L607.21,190.60 L607.89,194.97 L608.58,199.22 L609.26,203.36 L609.94,207.38 L610.63,211.26 L611.31,215.01 L611.99,218.62 L612.68,222.10 L613.36,225.44 L614.04,228.65 L614.73,231.73 L615.41,234.68 L616.09,237.50 L616.78,240.20 L617.46,242.78 L618.14,245.24 L618.83,247.59 L619.51,249.83 L620.19,251.97 L620.88,254.01 L621.56,255.95 L622.24,257.80 L622.93,259.57 L623.61,261.24 L624.29,262.84 L624.97,264.36 L625.66,265.81 L626.34,267.19 L627.02,268.50 L627.71,269.75 L628.39,270.94 L629.07,272.07 L629.76,273.15 L630.44,274.18 L631.12,275.17 L631.81,276.10 L632.49,277.00 L633.17,277.85 L633.86,278.67 L634.54,279.45 L635.22,280.20 L635.91,280.91 L636.59,281.60 L637.27,282.26 L637.96,282.88 L638.64,283.49 L639.32,284.07 L640.01,284.62 L640.69,285.16 L641.37,285.67 L642.06,286.17 L642.74,286.65 L643.42,287.11 L644.11,287.55 L644.79,287.98 L645.47,288.39 L646.16,288.79 L646.84,289.17 L647.52,289.55 L648.21,289.91 L648.89,290.25 L649.57,290.59 L650.26,290.92 L650.94,291.23 L651.62,291.54 L652.30,291.84 L652.99,292.13 L653.67,292.40 L654.35,292.68 L655.04,292.94 L655.72,293.20 L656.40,293.44 L657.09,293.69 L657.77,293.92 L658.45,294.15 L659.14,294.37 L659.82,294.59 L660.50,294.80 L661.19,295.00 L661.87,295.20 L662.55,295.40 L663.24,295.59 L663.92,295.77 L664.60,295.95 L665.29,296.13 L665.97,296.30 L666.65,296.46 L667.34,296.63 L668.02,296.79 L668.70,296.94 L669.39,297.09 L670.07,297.24 L670.75,297.38 L671.44,297.52 L672.12,297.66 L672.80,297.79 L673.49,297.93 L674.17,298.05 L674.85,298.18 L675.54,298.30 L676.22,298.42 L676.90,298.54 L677.59,298.65 L678.27,298.77 L678.95,298.87 L679.63,298.98 L680.32,299.09 L681.00,299.19 L681.68,299.29 L682.37,299.39 L683.05,299.49 L683.73,299.58 L684.42,299.67 L685.10,299.76" fill="none" stroke="#c8303a" stroke-width="1.1" stroke-linejoin="round" />
<path d="M437.08,304.43 L437.76,304.41 L438.45,304.38 L439.13,304.36 L439.81,304.33 L440.50,304.31 L441.18,304.28 L441.86,304.26 L442.55,304.23 L443.23,304.20 L443.91,304.17 L444.60,304.14 L445.28,304.12 L445.96,304.09 L446.65,304.06 L447.33,304.02 L448.01,303.99 L448.70,303.96 L449.38,303.93 L450.06,303.90 L450.75,303.86 L451.43,303.83 L452.11,303.79 L452.80,303.76 L453.48,303.72 L454.16,303.68 L454.85,303.64 L455.53,303.60 L456.21,303.56 L456.90,303.52 L457.58,303.48 L458.26,303.44 L458.95,303.40 L459.63,303.35 L460.31,303.31 L460.99,303.26 L461.68,303.21 L462.36,303.16 L463.04,303.11 L463.73,303.06 L464.41,303.01 L465.09,302.96 L465.78,302.91 L466.46,302.85 L467.14,302.79 L467.83,302.74 L468.51,302.68 L469.19,302.62 L469.88,302.55 L470.56,302.49 L471.24,302.42 L471.93,302.36 L472.61,302.29 L473.29,302.22 L473.98,302.15 L474.66,302.07 L475.34,302.00 L476.03,301.92 L476.71,301.84 L477.39,301.76 L478.08,301.67 L478.76,301.59 L479.44,301.50 L480.13,301.41 L480.81,301.31 L481.49,301.22 L482.18,301.12 L482.86,301.02 L483.54,300.91 L484.23,300.81 L484.91,300.70 L485.59,300.58 L486.28,300.47 L486.96,300.35 L487.64,300.22 L488.32,300.09 L489.01,299.96 L489.69,299.83 L490.37,299.69 L491.06,299.54 L491.74,299.39 L492.42,299.24 L493.11,299.08 L493.79,298.92 L494.47,298.75 L495.16,298.58 L495.84,298.40 L496.52,298.21 L497.21,298.02 L497.89,297.82 L498.57,297.61 L499.26,297.40 L499.94,297.17 L500.62,296.94 L501.31,296.71 L501.99,296.46 L502.67,296.20 L503.36,295.93 L504.04,295.66 L504.72,295.37 L505.41,295.07 L506.09,294.76 L506.77,294.44 L507.46,294.10 L508.14,293.75 L508.82,293.38 L509.51,293.00 L510.19,292.61 L510.87,292.19 L511.56,291.76 L512.24,291.31 L512.92,290.83 L513.61,290.34 L514.29,289.82 L514.97,289.28 L515.65,288.71 L516.34,288.12 L517.02,287.50 L517.70,286.85 L518.39,286.16 L519.07,285.45 L519.75,284.70 L520.44,283.91 L521.12,283.08 L521.80,282.22 L522.49,281.31 L523.17,280.35 L523.85,279.35 L524.54,278.29 L525.22,277.19 L525.90,276.03 L526.59,274.81 L527.27,273.54 L527.95,272.20 L528.64,270.79 L529.32,269.32 L530.00,267.78 L530.69,266.17 L531.37,264.48 L532.05,262.72 L532.74,260.88 L533.42,258.97 L534.10,256.97 L534.79,254.90 L535.47,252.75 L536.15,250.53 L536.84,248.24 L537.52,245.89 L538.20,243.47 L538.89,241.00 L539.57,238.50 L540.25,235.96 L540.94,233.41 L541.62,230.87 L542.30,228.35 L542.98,225.88 L543.67,223.48 L544.35,221.17 L545.03,218.99 L545.72,216.96 L546.40,215.12 L547.08,213.49 L547.77,212.09 L548.45,210.96 L549.13,210.11 L549.82,209.55 L550.50,209.30 L551.18,209.37 L551.87,209.74 L552.55,210.43 L553.23,211.40 L553.92,212.64 L554.60,214.14 L555.28,215.86 L555.97,217.79 L556.65,219.88 L557.33,222.12 L558.02,224.47 L558.70,226.90 L559.38,229.40 L560.07,231.93 L560.75,234.48 L561.43,237.02 L562.12,239.55 L562.80,242.04 L563.48,244.48 L564.17,246.88 L564.85,249.21 L565.53,251.47 L566.22,253.66 L566.90,255.77 L567.58,257.81 L568.27,259.77 L568.95,261.66 L569.63,263.46 L570.31,265.19 L571.00,266.85 L571.68,268.43 L572.36,269.94 L573.05,271.38 L573.73,272.76 L574.41,274.07 L575.10,275.33 L575.78,276.52 L576.46,277.66 L577.15,278.74 L577.83,279.77 L578.51,280.75 L579.20,281.69 L579.88,282.58 L580.56,283.43 L581.25,284.24 L581.93,285.02 L582.61,285.75 L583.30,286.45 L583.98,287.12 L584.66,287.76 L585.35,288.37 L586.03,288.95 L586.71,289.51 L587.40,290.04 L588.08,290.55 L588.76,291.03 L589.45,291.50 L590.13,291.94 L590.81,292.37 L591.50,292.77 L592.18,293.16 L592.86,293.54 L593.55,293.90 L594.23,294.24 L594.91,294.57 L595.60,294.89 L596.28,295.20 L596.96,295.49 L597.64,295.77 L598.33,296.05 L599.01,296.31 L599.69,296.56 L600.38,296.81 L601.06,297.04 L601.74,297.27 L602.43,297.49 L603.11,297.70 L603.79,297.90 L604.48,298.10 L605.16,298.29 L605.84,298.47 L606.53,298.65 L607.21,298.82 L607.89,298.99 L608.58,299.15 L609.26,299.31 L609.94,299.46 L610.63,299.60 L611.31,299.75 L611.99,299.88 L612.68,300.02 L613.36,300.15 L614.04,300.27 L614.73,300.40 L615.41,300.52 L616.09,300.63 L616.78,300.74 L617.46,300.85 L618.14,300.96 L618.83,301.06 L619.51,301.16 L620.19,301.26 L620.88,301.35 L621.56,301.45 L622.24,301.54 L622.93,301.62 L623.61,301.71 L624.29,301.79 L624.97,301.87 L625.66,301.95 L626.34,302.03 L627.02,302.10 L627.71,302.18 L628.39,302.25 L629.07,302.32 L629.76,302.39 L630.44,302.45 L631.12,302.52 L631.81,302.58 L632.49,302.64 L633.17,302.70 L633.86,302.76 L634.54,302.82 L635.22,302.87 L635.91,302.93 L636.59,302.98 L637.27,303.03 L637.96,303.09 L638.64,303.14 L639.32,303.18 L640.01,303.23 L640.69,303.28 L641.37,303.33 L642.06,303.37 L642.74,303.41 L643.42,303.46 L644.11,303.50 L644.79,303.54 L645.47,303.58 L646.16,303.62 L646.84,303.66 L647.52,303.70 L648.21,303.73 L648.89,303.77 L649.57,303.81 L650.26,303.84 L650.94,303.88 L651.62,303.91 L652.30,303.94 L652.99,303.97 L653.67,304.01 L654.35,304.04 L655.04,304.07 L655.72,304.10 L656.40,304.13 L657.09,304.16 L657.77,304.18 L658.45,304.21 L659.14,304.24 L659.82,304.27 L660.50,304.29 L661.19,304.32 L661.87,304.34 L662.55,304.37 L663.24,304.39 L663.92,304.42 L664.60,304.44 L665.29,304.46 L665.97,304.49 L666.65,304.51 L667.34,304.53 L668.02,304.55 L668.70,304.58 L669.39,304.60 L670.07,304.62 L670.75,304.64 L671.44,304.66 L672.12,304.68 L672.80,304.70 L673.49,304.72 L674.17,304.73 L674.85,304.75 L675.54,304.77 L676.22,304.79 L676.90,304.81 L677.59,304.82 L678.27,304.84 L678.95,304.86 L679.63,304.87 L680.32,304.89 L681.00,304.91 L681.68,304.92 L682.37,304.94 L683.05,304.95 L683.73,304.97 L684.42,304.98 L685.10,305.00" fill="none" stroke="#3a3ac8" stroke-width="1.0" stroke-linejoin="round" />
<path d="M437.08,304.60 L437.76,304.59 L438.45,304.57 L439.13,304.55 L439.81,304.54 L440.50,304.52 L441.18,304.50 L441.86,304.48 L442.55,304.47 L443.23,304.45 L443.91,304.43 L444.60,304.41 L445.28,304.39 L445.96,304.38 L446.65,304.36 L447.33,304.34 L448.01,304.32 L448.70,304.30 L449.38,304.28 L450.06,304.26 L450.75,304.24 L451.43,304.22 L452.11,304.20 L452.80,304.17 L453.48,304.15 L454.16,304.13 L454.85,304.11 L455.53,304.08 L456.21,304.06 L456.90,304.04 L457.58,304.01 L458.26,303.99 L458.95,303.97 L459.63,303.94 L460.31,303.91 L460.99,303.89 L461.68,303.86 L462.36,303.84 L463.04,303.81 L463.73,303.78 L464.41,303.75 L465.09,303.73 L465.78,303.70 L466.46,303.67 L467.14,303.64 L467.83,303.61 L468.51,303.58 L469.19,303.55 L469.88,303.52 L470.56,303.48 L471.24,303.45 L471.93,303.42 L472.61,303.39 L473.29,303.35 L473.98,303.32 L474.66,303.28 L475.34,303.25 L476.03,303.21 L476.71,303.17 L477.39,303.13 L478.08,303.10 L478.76,303.06 L479.44,303.02 L480.13,302.98 L480.81,302.94 L481.49,302.89 L482.18,302.85 L482.86,302.81 L483.54,302.76 L484.23,302.72 L484.91,302.67 L485.59,302.63 L486.28,302.58 L486.96,302.53 L487.64,302.48 L488.32,302.43 L489.01,302.38 L489.69,302.33 L490.37,302.27 L491.06,302.22 L491.74,302.16 L492.42,302.11 L493.11,302.05 L493.79,301.99 L494.47,301.93 L495.16,301.87 L495.84,301.81 L496.52,301.74 L497.21,301.68 L497.89,301.61 L498.57,301.55 L499.26,301.48 L499.94,301.41 L500.62,301.33 L501.31,301.26 L501.99,301.19 L502.67,301.11 L503.36,301.03 L504.04,300.95 L504.72,300.87 L505.41,300.79 L506.09,300.70 L506.77,300.61 L507.46,300.52 L508.14,300.43 L508.82,300.34 L509.51,300.24 L510.19,300.15 L510.87,300.05 L511.56,299.94 L512.24,299.84 L512.92,299.73 L513.61,299.62 L514.29,299.51 L514.97,299.39 L515.65,299.27 L516.34,299.15 L517.02,299.03 L517.70,298.90 L518.39,298.77 L519.07,298.63 L519.75,298.50 L520.44,298.35 L521.12,298.21 L521.80,298.06 L522.49,297.91 L523.17,297.75 L523.85,297.59 L524.54,297.42 L525.22,297.25 L525.90,297.08 L526.59,296.90 L527.27,296.71 L527.95,296.52 L528.64,296.32 L529.32,296.12 L530.00,295.91 L530.69,295.70 L531.37,295.48 L532.05,295.25 L532.74,295.01 L533.42,294.77 L534.10,294.52 L534.79,294.26 L535.47,293.99 L536.15,293.72 L536.84,293.44 L537.52,293.14 L538.20,292.84 L538.89,292.52 L539.57,292.20 L540.25,291.86 L540.94,291.51 L541.62,291.15 L542.30,290.77 L542.98,290.38 L543.67,289.97 L544.35,289.55 L545.03,289.12 L545.72,288.66 L546.40,288.19 L547.08,287.69 L547.77,287.18 L548.45,286.64 L549.13,286.08 L549.82,285.49 L550.50,284.88 L551.18,284.24 L551.87,283.58 L552.55,282.88 L553.23,282.14 L553.92,281.38 L554.60,280.57 L555.28,279.72 L555.97,278.84 L556.65,277.91 L557.33,276.93 L558.02,275.90 L558.70,274.82 L559.38,273.69 L560.07,272.49 L560.75,271.24 L561.43,269.92 L562.12,268.53 L562.80,267.07 L563.48,265.54 L564.17,263.92 L564.85,262.22 L565.53,260.44 L566.22,258.56 L566.90,256.59 L567.58,254.52 L568.27,252.35 L568.95,250.08 L569.63,247.69 L570.31,245.19 L571.00,242.57 L571.68,239.82 L572.36,236.96 L573.05,233.97 L573.73,230.85 L574.41,227.60 L575.10,224.22 L575.78,220.71 L576.46,217.06 L577.15,213.29 L577.83,209.40 L578.51,205.38 L579.20,201.25 L579.88,197.02 L580.56,192.70 L581.25,188.30 L581.93,183.84 L582.61,179.34 L583.30,174.83 L583.98,170.33 L584.66,165.87 L585.35,161.50 L586.03,157.24 L586.71,153.15 L587.40,149.26 L588.08,145.62 L588.76,142.28 L589.45,139.29 L590.13,136.68 L590.81,134.50 L591.50,132.78 L592.18,131.55 L592.86,130.84 L593.55,130.65 L594.23,130.98 L594.91,131.84 L595.60,133.21 L596.28,135.06 L596.96,137.37 L597.64,140.09 L598.33,143.18 L599.01,146.61 L599.69,150.32 L600.38,154.27 L601.06,158.42 L601.74,162.71 L602.43,167.11 L603.11,171.58 L603.79,176.09 L604.48,180.60 L605.16,185.09 L605.84,189.54 L606.53,193.92 L607.21,198.21 L607.89,202.42 L608.58,206.52 L609.26,210.50 L609.94,214.36 L610.63,218.09 L611.31,221.70 L611.99,225.18 L612.68,228.52 L613.36,231.73 L614.04,234.82 L614.73,237.77 L615.41,240.60 L616.09,243.31 L616.78,245.90 L617.46,248.37 L618.14,250.72 L618.83,252.97 L619.51,255.11 L620.19,257.15 L620.88,259.10 L621.56,260.95 L622.24,262.71 L622.93,264.38 L623.61,265.97 L624.29,267.49 L624.97,268.93 L625.66,270.30 L626.34,271.60 L627.02,272.83 L627.71,274.01 L628.39,275.13 L629.07,276.19 L629.76,277.21 L630.44,278.17 L631.12,279.09 L631.81,279.97 L632.49,280.80 L633.17,281.59 L633.86,282.35 L634.54,283.07 L635.22,283.77 L635.91,284.43 L636.59,285.06 L637.27,285.66 L637.96,286.24 L638.64,286.79 L639.32,287.32 L640.01,287.83 L640.69,288.32 L641.37,288.79 L642.06,289.24 L642.74,289.67 L643.42,290.09 L644.11,290.49 L644.79,290.88 L645.47,291.25 L646.16,291.61 L646.84,291.95 L647.52,292.29 L648.21,292.61 L648.89,292.92 L649.57,293.22 L650.26,293.52 L650.94,293.80 L651.62,294.07 L652.30,294.33 L652.99,294.59 L653.67,294.84 L654.35,295.08 L655.04,295.31 L655.72,295.54 L656.40,295.76 L657.09,295.97 L657.77,296.18 L658.45,296.38 L659.14,296.57 L659.82,296.76 L660.50,296.95 L661.19,297.13 L661.87,297.30 L662.55,297.47 L663.24,297.63 L663.92,297.79 L664.60,297.95 L665.29,298.10 L665.97,298.25 L666.65,298.39 L667.34,298.53 L668.02,298.67 L668.70,298.81 L669.39,298.94 L670.07,299.06 L670.75,299.19 L671.44,299.31 L672.12,299.42 L672.80,299.54 L673.49,299.65 L674.17,299.76 L674.85,299.87 L675.54,299.97 L676.22,300.07 L676.90,300.17 L677.59,300.27 L678.27,300.37 L678.95,300.46 L679.63,300.55 L680.32,300.64 L681.00,300.72 L681.68,300.81 L682.37,300.89 L683.05,300.97 L683.73,301.05 L684.42,301.13 L685.10,301.21" fill="none" stroke="#3a3ac8" stroke-width="1.0" stroke-linejoin="round" />
</g>
<line x1="575.50" y1="313.50" x2="575.50" y2="320.50" stroke="#3cc83c" stroke-width="1.5" stroke-dasharray="4.1 4.2"/>
<rect x="420.0" y="93.0" width="273.30" height="220.50" fill="none" stroke="#333333" stroke-width="1.4"/>
<line x1="420.00" y1="313.50" x2="420.00" y2="317.30" stroke="#333333" stroke-width="1.3" />
<text x="420.0" y="330" font-size="12.8" fill="#1c1c1c" stroke="#1c1c1c" stroke-width="0.2" text-anchor="middle" ><tspan>39</tspan></text>
<line x1="447.33" y1="313.50" x2="447.33" y2="315.70" stroke="#333333" stroke-width="1.2" />
<line x1="474.66" y1="313.50" x2="474.66" y2="317.30" stroke="#333333" stroke-width="1.3" />
<text x="474.65999999999997" y="330" font-size="12.8" fill="#1c1c1c" stroke="#1c1c1c" stroke-width="0.2" text-anchor="middle" ><tspan>41</tspan></text>
<line x1="501.99" y1="313.50" x2="501.99" y2="315.70" stroke="#333333" stroke-width="1.2" />
<line x1="529.32" y1="313.50" x2="529.32" y2="317.30" stroke="#333333" stroke-width="1.3" />
<text x="529.3199999999999" y="330" font-size="12.8" fill="#1c1c1c" stroke="#1c1c1c" stroke-width="0.2" text-anchor="middle" ><tspan>43</tspan></text>
<line x1="556.65" y1="313.50" x2="556.65" y2="315.70" stroke="#333333" stroke-width="1.2" />
<line x1="583.98" y1="313.50" x2="583.98" y2="317.30" stroke="#333333" stroke-width="1.3" />
<text x="583.98" y="330" font-size="12.8" fill="#1c1c1c" stroke="#1c1c1c" stroke-width="0.2" text-anchor="middle" ><tspan>45</tspan></text>
<line x1="611.31" y1="313.50" x2="611.31" y2="315.70" stroke="#333333" stroke-width="1.2" />
<line x1="638.64" y1="313.50" x2="638.64" y2="317.30" stroke="#333333" stroke-width="1.3" />
<text x="638.64" y="330" font-size="12.8" fill="#1c1c1c" stroke="#1c1c1c" stroke-width="0.2" text-anchor="middle" ><tspan>47</tspan></text>
<line x1="665.97" y1="313.50" x2="665.97" y2="315.70" stroke="#333333" stroke-width="1.2" />
<line x1="693.30" y1="313.50" x2="693.30" y2="317.30" stroke="#333333" stroke-width="1.3" />
<text x="693.3" y="330" font-size="12.8" fill="#1c1c1c" stroke="#1c1c1c" stroke-width="0.2" text-anchor="middle" ><tspan>49</tspan></text>
<line x1="416.00" y1="267.00" x2="420.00" y2="267.00" stroke="#333333" stroke-width="1.3" />
<line x1="416.00" y1="209.00" x2="420.00" y2="209.00" stroke="#333333" stroke-width="1.3" />
<line x1="416.00" y1="151.00" x2="420.00" y2="151.00" stroke="#333333" stroke-width="1.3" />
<line x1="416.00" y1="93.00" x2="420.00" y2="93.00" stroke="#333333" stroke-width="1.3" />
<line x1="417.50" y1="296.00" x2="420.00" y2="296.00" stroke="#333333" stroke-width="1.2" />
<line x1="417.50" y1="238.00" x2="420.00" y2="238.00" stroke="#333333" stroke-width="1.2" />
<line x1="417.50" y1="180.00" x2="420.00" y2="180.00" stroke="#333333" stroke-width="1.2" />
<line x1="417.50" y1="122.00" x2="420.00" y2="122.00" stroke="#333333" stroke-width="1.2" />
<text x="408.6" y="98.2" font-size="12.8" fill="#1c1c1c" stroke="#1c1c1c" stroke-width="0.2" text-anchor="end" ><tspan>4x10</tspan></text>
<text x="408.9" y="91.2" font-size="7.2" fill="#1c1c1c" stroke="#1c1c1c" stroke-width="0.2" text-anchor="start" ><tspan>3</tspan></text>
<text x="408.6" y="156.2" font-size="12.8" fill="#1c1c1c" stroke="#1c1c1c" stroke-width="0.2" text-anchor="end" ><tspan>3x10</tspan></text>
<text x="408.9" y="149.2" font-size="7.2" fill="#1c1c1c" stroke="#1c1c1c" stroke-width="0.2" text-anchor="start" ><tspan>3</tspan></text>
<text x="408.6" y="214.2" font-size="12.8" fill="#1c1c1c" stroke="#1c1c1c" stroke-width="0.2" text-anchor="end" ><tspan>2x10</tspan></text>
<text x="408.9" y="207.2" font-size="7.2" fill="#1c1c1c" stroke="#1c1c1c" stroke-width="0.2" text-anchor="start" ><tspan>3</tspan></text>
<text x="408.6" y="272.2" font-size="12.8" fill="#1c1c1c" stroke="#1c1c1c" stroke-width="0.2" text-anchor="end" ><tspan>1x10</tspan></text>
<text x="408.9" y="265.2" font-size="7.2" fill="#1c1c1c" stroke="#1c1c1c" stroke-width="0.2" text-anchor="start" ><tspan>3</tspan></text>
<rect x="63.5" y="91.7" width="87.60" height="75.10" fill="#fff" stroke="#333333" stroke-width="1.4"/>
<text x="66.6" y="101.3" font-size="8.75" fill="#1c1c1c" stroke="#1c1c1c" stroke-width="0.2" text-anchor="start" ><tspan>Co-Fe(5nm)/Cu(5nm)</tspan></text>
<text x="66.6" y="112.0" font-size="8.75" fill="#1c1c1c" stroke="#1c1c1c" stroke-width="0.2" text-anchor="start" ><tspan>sulfate bath, pH = 2.8</tspan></text>
<text x="66.6" y="122.1" font-size="8.75" fill="#1c1c1c" stroke="#1c1c1c" stroke-width="0.2" text-anchor="start" ><tspan>j</tspan><tspan dy="3.10" font-size="7.00">magn</tspan><tspan dy="-3.10"> = 20.7 mA/cm</tspan><tspan dy="-3.60" font-size="7.00">2</tspan></text>
<text x="66.6" y="133.6" font-size="8.75" fill="#1c1c1c" stroke="#1c1c1c" stroke-width="0.2" text-anchor="start" ><tspan>c</tspan><tspan dy="3.00" font-size="7.00">ion,Fe</tspan><tspan dy="-3.00"> = 5 mol%</tspan></text>
<rect x="420.0" y="93.0" width="89.60" height="74.70" fill="#fff" stroke="#111" stroke-width="1.6"/>
<text x="423.6" y="102.2" font-size="8.75" fill="#1c1c1c" stroke="#1c1c1c" stroke-width="0.2" text-anchor="start" ><tspan>Co-Fe(5nm)/Cu(5nm)</tspan></text>
<text x="423.6" y="112.8" font-size="8.75" fill="#1c1c1c" stroke="#1c1c1c" stroke-width="0.2" text-anchor="start" ><tspan>sulfate bath, pH = 2.8</tspan></text>
<text x="423.6" y="123.1" font-size="8.75" fill="#1c1c1c" stroke="#1c1c1c" stroke-width="0.2" text-anchor="start" ><tspan>j</tspan><tspan dy="3.10" font-size="7.00">magn</tspan><tspan dy="-3.10"> = 20.7 mA/cm</tspan><tspan dy="-3.60" font-size="7.00">2</tspan></text>
<text x="423.6" y="133.8" font-size="8.75" fill="#1c1c1c" stroke="#1c1c1c" stroke-width="0.2" text-anchor="start" ><tspan>c</tspan><tspan dy="3.00" font-size="7.00">ion,Fe</tspan><tspan dy="-3.00"> = 20 mol%</tspan></text>
<rect x="284.3" y="98.3" width="48.20" height="15.70" fill="#fff" stroke="#555" stroke-width="1.1"/>
<line x1="290.00" y1="106.80" x2="318.50" y2="106.80" stroke="#555" stroke-width="1.0" />
<text x="322.0" y="111.4" font-size="12.4" fill="#1c1c1c" stroke="#1c1c1c" stroke-width="0.2" text-anchor="start" ><tspan>5</tspan></text>
<rect x="636.25" y="98.6" width="47.35" height="15.80" fill="#fff" stroke="#555" stroke-width="1.1"/>
<line x1="641.60" y1="107.10" x2="670.00" y2="107.10" stroke="#555" stroke-width="1.0" />
<text x="672.8" y="111.6" font-size="12.4" fill="#1c1c1c" stroke="#1c1c1c" stroke-width="0.2" text-anchor="start" ><tspan>7</tspan></text>
<text x="199" y="351.2" font-size="12.6" fill="#1c1c1c" stroke="#1c1c1c" stroke-width="0.2" text-anchor="middle" ><tspan>2theta (degrees)</tspan></text>
<text x="557.5" y="350" font-size="12.6" fill="#1c1c1c" stroke="#1c1c1c" stroke-width="0.2" text-anchor="middle" ><tspan>2theta (degrees)</tspan></text>
<text x="0" y="0" font-size="12.6" fill="#1c1c1c" text-anchor="middle" transform="translate(10.3,185) rotate(-90)">Counts</text>
<text x="0" y="0" font-size="12.6" fill="#1c1c1c" text-anchor="middle" transform="translate(366.3,185.6) rotate(-90)">Counts</text>
<text x="0" y="0" font-size="11.0" fill="#1c1c1c" stroke="#1c1c1c" stroke-width="0.2" transform="translate(172.8,138.6) rotate(-90)">Cu-(111)</text>
<text x="0" y="0" font-size="11.0" fill="#1c1c1c" stroke="#1c1c1c" stroke-width="0.2" transform="translate(198.2,173.9) rotate(-90)">FCC(111)</text>
<text x="0" y="0" font-size="11.0" fill="#1c1c1c" stroke="#1c1c1c" stroke-width="0.2" transform="translate(221.2,137.2) rotate(-90)">Co-(111)</text>
<text x="0" y="0" font-size="10.4" fill="#1c1c1c" stroke="#1c1c1c" stroke-width="0.2" transform="translate(540.4,148.9) rotate(-90)">Cu(111)</text>
<text x="0" y="0" font-size="10.9" fill="#1c1c1c" stroke="#1c1c1c" stroke-width="0.2" transform="translate(553.2,179.6) rotate(-90)">FCC(111)</text>
<text x="0" y="0" font-size="10.2" fill="#1c1c1c" stroke="#1c1c1c" stroke-width="0.2" transform="translate(566.8,140) rotate(-90)">Co (111)</text>
<text x="0" y="0" font-size="10.0" fill="#1c1c1c" stroke="#1c1c1c" stroke-width="0.2" transform="translate(579.0,155.3) rotate(-90)">Fe (110)</text>
<text x="0" y="0" font-size="10.2" fill="#1c1c1c" stroke="#1c1c1c" stroke-width="0.2" transform="translate(618.6,141.9) rotate(-90)">Co (110)</text>
<line x1="175.50" y1="132.50" x2="182.80" y2="143.80" stroke="#111" stroke-width="0.9" />
<path d="M182.80,143.80 L179.20,141.36 L182.06,139.52 Z" fill="#111"/>
<line x1="213.60" y1="136.60" x2="207.30" y2="147.60" stroke="#111" stroke-width="0.9" />
<path d="M207.30,147.60 L207.81,143.28 L210.76,144.97 Z" fill="#111"/>
<line x1="613.30" y1="143.70" x2="595.00" y2="156.60" stroke="#111" stroke-width="0.9" />
<path d="M595.00,156.60 L597.29,152.91 L599.25,155.68 Z" fill="#111"/>
<rect x="564.2" y="225.8" width="77.70" height="21.80" fill="#fff" stroke="#222" stroke-width="1.5"/>
<text x="571.8" y="241.2" font-size="10.6" fill="#2a2aa6" stroke="#2a2aa6" stroke-width="0.2" text-anchor="start" ><tspan>bcc-Co</tspan><tspan dy="3.50" font-size="7.63">66</tspan><tspan dy="-3.50">Fe</tspan><tspan dy="3.50" font-size="7.63">34</tspan></text>
<rect x="529.1" y="278.5" width="44.00" height="19.90" fill="#fff" stroke="#222" stroke-width="1.5"/>
<text x="536.3" y="292.4" font-size="10.4" fill="#2a2aa6" stroke="#2a2aa6" stroke-width="0.2" text-anchor="start" ><tspan>fcc-Cu</tspan></text>
<text x="169.4" y="249.7" font-size="13" fill="#1c1c1c" stroke="#1c1c1c" stroke-width="0.2" text-anchor="start" ><tspan>S</tspan></text>
<text x="177.6" y="243.2" font-size="8" fill="#1c1c1c" stroke="#1c1c1c" stroke-width="0.2" text-anchor="start" ><tspan>-</tspan></text>
<text x="215.4" y="273.8" font-size="13" fill="#1c1c1c" stroke="#1c1c1c" stroke-width="0.2" text-anchor="start" ><tspan>S</tspan></text>
<text x="224.3" y="267.5" font-size="8" fill="#1c1c1c" stroke="#1c1c1c" stroke-width="0.2" text-anchor="start" ><tspan>+</tspan></text>
<text x="32.4" y="371.8" font-size="12.4" fill="#1c1c1c" stroke="#1c1c1c" stroke-width="0.2" text-anchor="start" ><tspan>bilayer periodicity:</tspan></text>
<text x="134.6" y="371.8" font-size="12.6" font-family="Liberation Serif" fill="#1c1c1c">Λ</text>
<text x="143.3" y="376.0" font-size="9.2" fill="#1c1c1c" stroke="#1c1c1c" stroke-width="0.2" text-anchor="start" ><tspan>XRD</tspan></text>
<text x="166.6" y="371.8" font-size="12.3" fill="#1c1c1c" stroke="#1c1c1c" stroke-width="0.2" text-anchor="start" ><tspan>= 11 nm;</tspan></text>
<text x="218.2" y="371.8" font-size="12.6" font-family="Liberation Serif" fill="#1c1c1c">Λ</text>
<text x="227.6" y="376.0" font-size="9.2" fill="#1c1c1c" stroke="#1c1c1c" stroke-width="0.2" text-anchor="start" ><tspan>nom</tspan></text>
<text x="249.8" y="371.8" font-size="12.3" fill="#1c1c1c" stroke="#1c1c1c" stroke-width="0.2" text-anchor="start" ><tspan>= 10 nm</tspan></text>
<text x="32.4" y="385.6" font-size="12.5" fill="#1c1c1c" stroke="#1c1c1c" stroke-width="0.2" text-anchor="start" ><tspan>a(fcc,111) = 0.3583(2) nm</tspan></text>
<text x="486" y="370.8" font-size="12.55" fill="#1c1c1c" stroke="#1c1c1c" stroke-width="0.2" text-anchor="start" ><tspan>a(fcc,111) = 0.3583(2) nm</tspan></text>
<text x="483" y="385.8" font-size="12.35" fill="#1c1c1c" stroke="#1c1c1c" stroke-width="0.2" text-anchor="start" ><tspan>a(bcc,110) = 0.2829(2) nm</tspan></text>
<rect x="4.3" y="396.6" width="194.30" height="19.90" fill="none" stroke="#333333" stroke-width="1.5"/>
<text x="11.1" y="411.1" font-size="10.83" fill="#bb4d2b" stroke="#bb4d2b" stroke-width="0.2" text-anchor="start" ><tspan>Δa(fcc) = a(Vegard’s law) – a(fcc,111)</tspan></text>
<rect x="480.4" y="395.3" width="204.50" height="20.00" fill="none" stroke="#333333" stroke-width="1.5"/>
<text x="487.9" y="409.5" font-size="10.72" fill="#bb4d2b" stroke="#bb4d2b" stroke-width="0.2" text-anchor="start" ><tspan>Δa(bcc) = a(Vegard’s law) – a(bcc,110)</tspan></text>
<rect x="211.6" y="395.3" width="249.50" height="38.70" fill="none" stroke="#222" stroke-width="1.5"/>
<text x="215.7" y="406.4" font-size="10.6" fill="#2a2aa6" stroke="#2a2aa6" stroke-width="0.2" text-anchor="start" ><tspan>a(fcc-Co) = 0.35446 nm</tspan></text>
<text x="215.7" y="418.6" font-size="10.6" fill="#2a2aa6" stroke="#2a2aa6" stroke-width="0.2" text-anchor="start" ><tspan>a(fcc-Cu) = 0.36148 nm</tspan></text>
<text x="215.7" y="431.0" font-size="10.6" fill="#2a2aa6" stroke="#2a2aa6" stroke-width="0.2" text-anchor="start" ><tspan>a(fcc-Fe) = 0.36017 nm</tspan></text>
<text x="339" y="406.4" font-size="10.6" fill="#2a2aa6" stroke="#2a2aa6" stroke-width="0.2" text-anchor="start" xml:space="preserve"><tspan>a(bcc-Fe) =  0.28665 nm</tspan></text>
<text x="339" y="418.6" font-size="10.6" fill="#2a2aa6" stroke="#2a2aa6" stroke-width="0.2" text-anchor="start" xml:space="preserve"><tspan>a(bcc-Co) =  0.2827 nm</tspan></text></svg></body></html>
